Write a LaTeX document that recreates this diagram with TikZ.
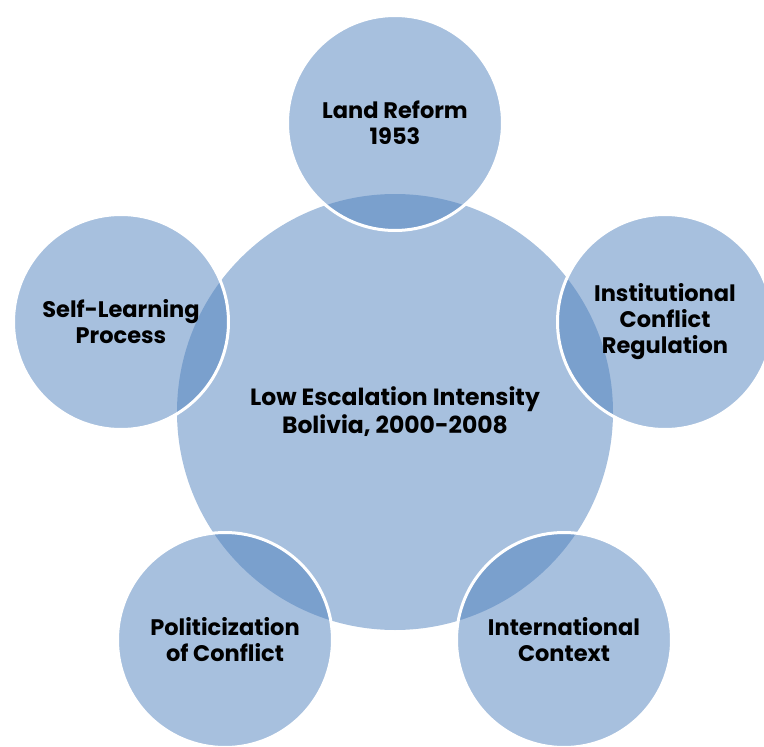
\documentclass[tikz,border=0pt]{standalone}
\usepackage{fontspec}
\setmainfont{Poppins}
\usetikzlibrary{positioning}
\definecolor{accentblue}{RGB}{79,129,189}

\begin{document}
\begin{tikzpicture}[x=1pt,y=-1pt,
      hub/.style={circle,fill=accentblue,fill opacity=0.5,text opacity=1,
                  minimum size=436pt,inner sep=0pt,align=center,
                  font=\fontsize{23.5}{28}\selectfont\bfseries},
      factor/.style={circle,fill=accentblue,fill opacity=0.5,text opacity=1,
                     draw=white,draw opacity=1,line width=3pt,
                     minimum size=215pt,inner sep=0pt,align=center,
                     font=\fontsize{22.5}{26}\selectfont\bfseries}
    ]

    \clip (0,0) rectangle (764,747);

    % Central outcome
    \node[hub] (ESC) at (395,412)
      {Low Escalation Intensity\\Bolivia, 2000-2008};

    % Factors
    \node[factor] (LR)  at (395,123) {Land Reform\\1953};
    \node[factor] (ICR) at (665,322) {Institutional\\Conflict\\Regulation};
    \node[factor] (IC)  at (564,640) {International\\Context};
    \node[factor] (PC)  at (225,640) {Politicization\\of Conflict};
    \node[factor] (SL)  at (121,322) {Self-Learning\\Process};

  \end{tikzpicture}
\end{document}
